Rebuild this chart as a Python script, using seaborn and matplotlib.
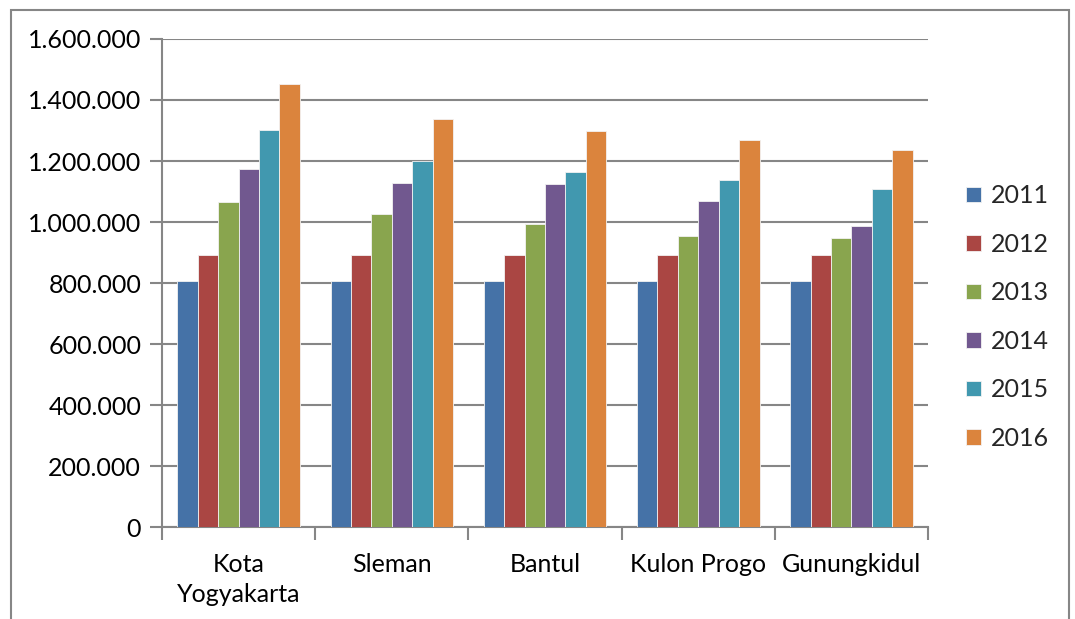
import matplotlib
matplotlib.use("Agg")
import matplotlib.pyplot as plt
from matplotlib.patches import Rectangle
import seaborn as sns
import pandas as pd

# Upah minimum kabupaten/kota DIY (Rp), 2011-2016
regions = ["Kota\nYogyakarta", "Sleman", "Bantul", "Kulon Progo", "Gunungkidul"]
years = ["2011", "2012", "2013", "2014", "2015", "2016"]
wage_2011 = [808000, 808000, 808000, 808000, 808000]
wage_2012 = [892660, 892660, 892660, 892660, 892660]
wage_2013 = [1065247, 1026181, 993484, 954000, 947114]
wage_2014 = [1173300, 1127000, 1125500, 1069000, 988500]
wage_2015 = [1302500, 1200000, 1163800, 1138000, 1108249]
wage_2016 = [1452400, 1338000, 1297700, 1268870, 1235700]
y_ticks = [0, 200000, 400000, 600000, 800000, 1000000, 1200000, 1400000, 1600000]

colors = ["#4572A7", "#AA4643", "#89A54E", "#71588F", "#4198AF", "#DB843D"]

series = [wage_2011, wage_2012, wage_2013, wage_2014, wage_2015, wage_2016]
rows = []
for yr, vals in zip(years, series):
    for reg, v in zip(regions, vals):
        rows.append({"region": reg, "year": yr, "wage": v})
df = pd.DataFrame(rows)

sns.set_theme(style="white")
plt.rcParams["font.family"] = ["Lato", "DejaVu Sans"]
FS = 18

fig = plt.figure(figsize=(10.75, 6.19), dpi=100)
ax = fig.add_axes([0.1507, 0.1486, 0.8633 - 0.1507, 0.937 - 0.1486])

sns.barplot(data=df, x="region", y="wage", hue="year", order=regions,
            hue_order=years, palette=colors, saturation=1, width=0.8,
            edgecolor="#f2f2f2", linewidth=0.6, ax=ax, legend=True, zorder=3)

ax.set_ylim(0, 1600000)
ax.set_xlim(-0.5, len(regions) - 0.5)
ax.set_yticks(y_ticks)
ax.set_yticklabels([f"{v:,.0f}".replace(",", ".") for v in y_ticks],
                   fontsize=FS, color="black")
ax.yaxis.grid(True, color="#868686", linewidth=1.5, zorder=0)
ax.xaxis.grid(False)
ax.set_axisbelow(True)
ax.set_xlabel("")
ax.set_ylabel("")

# category labels centred, ticks on group boundaries
ax.set_xticks(range(len(regions)))
ax.set_xticklabels(regions, fontsize=FS, color="black", linespacing=1.35)
ax.tick_params(axis="x", which="major", length=0, pad=19)
ax.set_xticks([i - 0.5 for i in range(len(regions) + 1)], minor=True)
ax.tick_params(axis="x", which="minor", length=9, width=1.5, color="#868686",
               direction="out", bottom=True)
ax.tick_params(axis="y", length=9, width=1.5, color="#868686", direction="out",
               left=True, pad=6)

for side in ["top", "right"]:
    ax.spines[side].set_visible(False)
for side in ["left", "bottom"]:
    ax.spines[side].set_color("#868686")
    ax.spines[side].set_linewidth(1.5)

handles, labels = ax.get_legend_handles_labels()
ax.legend(handles, labels, loc="center left",
          bbox_to_anchor=(966 / 1075, 1 - 317 / 619),
          bbox_transform=fig.transFigure, frameon=False, fontsize=FS,
          handlelength=0.6, handleheight=0.6, handletextpad=0.4,
          labelspacing=1.02, borderpad=0, borderaxespad=0)

# outer chart frame
fig.patches.append(Rectangle((11 / 1075, -0.05), (1069 - 11) / 1075,
                             1.05 - 10 / 619, transform=fig.transFigure,
                             fill=False, edgecolor="#868686", linewidth=1.5))

fig.savefig("out.png", dpi=100)
